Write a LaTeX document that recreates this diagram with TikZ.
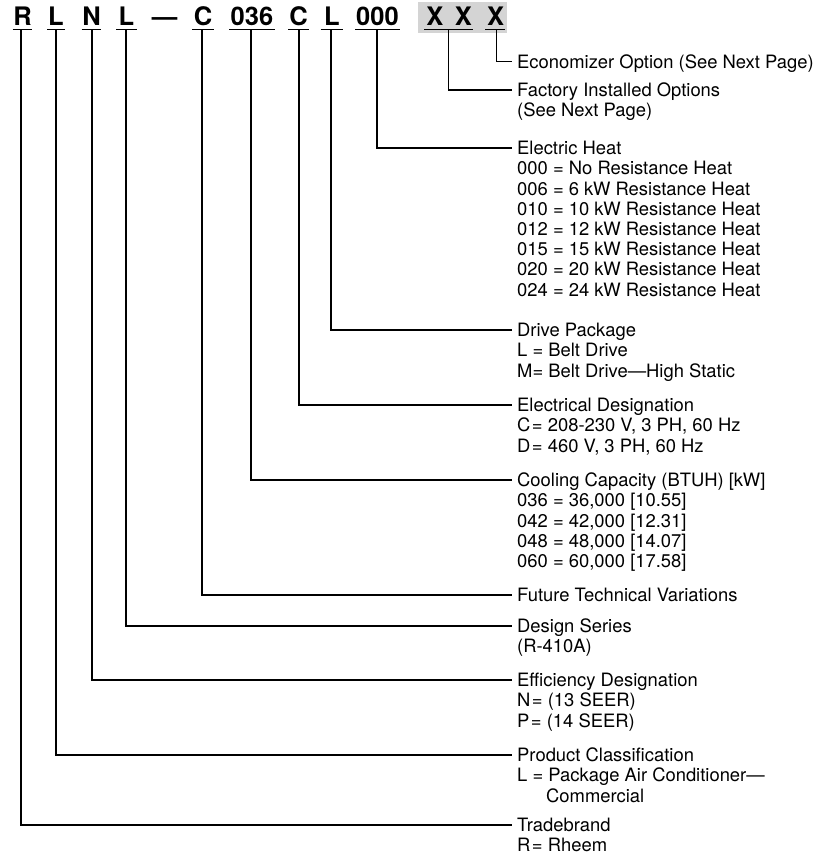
\documentclass[tikz,border=0pt]{standalone}
\usepackage{fontspec}
\setmainfont{TeX Gyre Heros}
\definecolor{boxgray}{RGB}{212,212,212}
\tikzset{
  hdr/.style={font=\fontsize{25.5}{28}\selectfont\bfseries, inner sep=0pt, anchor=base},
  lbl/.style={font=\fontsize{18.4}{20.2}\selectfont, inner xsep=5pt, inner ysep=0pt, anchor=base west},
  uline/.style={line width=1.5pt},
  conn/.style={line width=1.2pt},
}
\newcommand{\blk}[1]{\begin{tabular}[t]{@{}l@{}}#1\end{tabular}}
\begin{document}
\begin{tikzpicture}[x=1pt,y=1pt]
\useasboundingbox (0,0) rectangle (837,-863);
% gray field behind X X X
\fill[boxgray] (418,-2) rectangle (507,-33);
% header characters
\node[hdr] (hR)  at (22.5,-25) {R};
\node[hdr] (hL1) at (56,-25) {L};
\node[hdr] (hN)  at (91.5,-25) {N};
\node[hdr] (hL2) at (126.5,-25) {L};
\node[hdr] (hD)  at (164.5,-25) {—};
\node[hdr] (hC1) at (203,-25) {C};
\node[hdr] (hCap) at (252,-25) {036};
\node[hdr] (hC2) at (298.5,-25) {C};
\node[hdr] (hL3) at (332,-25) {L};
\node[hdr] (hH)  at (377.5,-25) {000};
\node[hdr] (hX1) at (435,-25) {X};
\node[hdr] (hX2) at (463.5,-25) {X};
\node[hdr] (hX3) at (495.5,-25) {X};
% underlines
\draw[uline] (12.7,-29.5) -- (31.7,-29.5);
\draw[uline] (47.3,-29.5) -- (65,-29.5);
\draw[uline] (81.7,-29.5) -- (100.7,-29.5);
\draw[uline] (116,-29.5) -- (136.7,-29.5);
\draw[uline] (192.3,-29.5) -- (214,-29.5);
\draw[uline] (229.3,-29.5) -- (275,-29.5);
\draw[uline] (288.3,-29.5) -- (309.3,-29.5);
\draw[uline] (320.7,-29.5) -- (342.7,-29.5);
\draw[uline] (355,-29.5) -- (400,-29.5);
\draw[uline] (424,-29.5) -- (473,-29.5);
\draw[uline] (485,-29.5) -- (505,-29.5);
% connector start points
\coordinate (uR)  at (21,-29.5);
\coordinate (uL1) at (56,-29.5);
\coordinate (uN)  at (92,-29.5);
\coordinate (uL2) at (126,-29.5);
\coordinate (uC1) at (202,-29.5);
\coordinate (uCap) at (251,-29.5);
\coordinate (uC2) at (299,-29.5);
\coordinate (uL3) at (331,-29.5);
\coordinate (uH)  at (377,-29.5);
\coordinate (uX)  at (448.5,-29.5);
\coordinate (uX3) at (496.5,-29.5);
% labels (base of first line = line y - 6.6)
\node[lbl] (tEcon) at (512,-68.1) {\blk{Economizer Option (See Next Page)}};
\node[lbl] (tFact) at (512,-96.6) {\blk{Factory Installed Options\\(See Next Page)}};
\node[lbl] (tHeat) at (512,-154.6) {\blk{Electric Heat\\000 = No Resistance Heat\\006 = 6 kW Resistance Heat\\010 = 10 kW Resistance Heat\\012 = 12 kW Resistance Heat\\015 = 15 kW Resistance Heat\\020 = 20 kW Resistance Heat\\024 = 24 kW Resistance Heat}};
\node[lbl] (tDrive) at (512,-336.6) {\blk{Drive Package\\L = Belt Drive\\M= Belt Drive—High Static}};
\node[lbl] (tElec) at (512,-411.6) {\blk{Electrical Designation\\C\kern1.5pt= 208-230 V, 3 PH, 60 Hz\\D\kern1.5pt= 460 V, 3 PH, 60 Hz}};
\node[lbl] (tCool) at (512,-486.6) {\blk{Cooling Capacity (BTUH) [kW]\\036 = 36,000 [10.55]\\042 = 42,000 [12.31]\\048 = 48,000 [14.07]\\060 = 60,000 [17.58]}};
\node[lbl] (tFut) at (512,-601.6) {\blk{Future Technical Variations}};
\node[lbl] (tDes) at (512,-632.6) {\blk{Design Series\\(R-410A)}};
\node[lbl] (tEff) at (512,-686.6) {\blk{Efficiency Designation\\N\kern1.5pt= (13 SEER)\\P\kern1.5pt= (14 SEER)}};
\node[lbl] (tProd) at (512,-761.6) {\blk{Product Classification\\L = Package Air Conditioner—\\\hspace*{29pt}Commercial}};
\node[lbl] (tTrade) at (512,-831.6) {\blk{Tradebrand\\R\kern1.5pt= Rheem}};
% connectors
\draw[conn] (uX3) |- ([yshift=6.6pt]tEcon.base west);
\draw[conn] (uX) |- ([yshift=6.6pt]tFact.base west);
\draw[conn] (uH) |- ([yshift=6.6pt]tHeat.base west);
\draw[conn] (uL3) |- ([yshift=6.6pt]tDrive.base west);
\draw[conn] (uC2) |- ([yshift=6.6pt]tElec.base west);
\draw[conn] (uCap) |- ([yshift=6.6pt]tCool.base west);
\draw[conn] (uC1) |- ([yshift=6.6pt]tFut.base west);
\draw[conn] (uL2) |- ([yshift=6.6pt]tDes.base west);
\draw[conn] (uN) |- ([yshift=6.6pt]tEff.base west);
\draw[conn] (uL1) |- ([yshift=6.6pt]tProd.base west);
\draw[conn] (uR) |- ([yshift=6.6pt]tTrade.base west);
\end{tikzpicture}
\end{document}
